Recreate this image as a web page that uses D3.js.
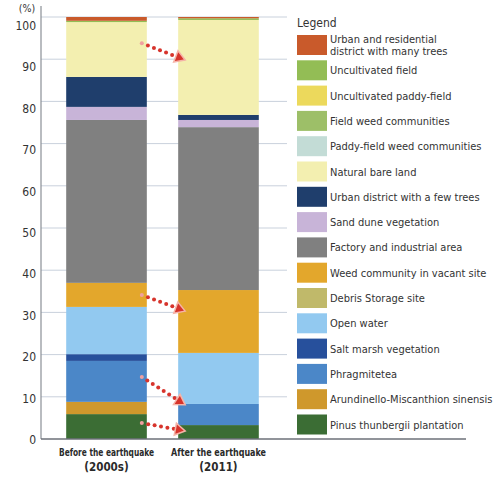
<!DOCTYPE html>
<html><head><meta charset="utf-8">
<script src="https://cdn.jsdelivr.net/npm/d3@7"></script>
<style>body{margin:0;background:#fff}svg{display:block}</style>
</head><body><svg id="c" width="499" height="484"></svg>
<script>
// ---- data ----
const categories = ["Before the earthquake (2000s)", "After the earthquake (2011)"];
const categoryLines = [["Before the earthquake", "(2000s)"], ["After the earthquake", "(2011)"]];
// legend order (top of stack first)
const classes = [
  "Urban and residential district with many trees",
  "Uncultivated field",
  "Uncultivated paddy-field",
  "Field weed communities",
  "Paddy-field weed communities",
  "Natural bare land",
  "Urban district with a few trees",
  "Sand dune vegetation",
  "Factory and industrial area",
  "Weed community in vacant site",
  "Debris Storage site",
  "Open water",
  "Salt marsh vegetation",
  "Phragmitetea",
  "Arundinello-Miscanthion sinensis",
  "Pinus thunbergii plantation"
];
const legendLines = [
  ["Urban and residential", "district with many trees"],
  ["Uncultivated field"], ["Uncultivated paddy-field"], ["Field weed communities"],
  ["Paddy-field weed communities"], ["Natural bare land"], ["Urban district with a few trees"],
  ["Sand dune vegetation"], ["Factory and industrial area"], ["Weed community in vacant site"],
  ["Debris Storage site"], ["Open water"], ["Salt marsh vegetation"], ["Phragmitetea"],
  ["Arundinello-Miscanthion sinensis"], ["Pinus thunbergii plantation"]
];
const beforeValues = [0.9, 0.3, 0, 0, 0, 13.0, 7.1, 3.1, 38.6, 5.7, 0, 11.2, 1.6, 9.7, 2.9, 5.9];
const afterValues  = [0.3, 0.4, 0, 0, 0, 22.5, 1.2, 1.7, 38.6, 14.9, 0, 12.1, 0, 5.0, 0, 3.3];
const yTicks = [0, 10, 20, 30, 40, 50, 60, 70, 80, 90, 100];
// arrows: [value at left bar, value at right bar]
const arrows = [[93.8, 89.8], [34.1, 30.3], [14.7, 8.1], [3.8, 1.9]];

const palette = ["#c95a2b", "#93bd55", "#ecd95c", "#9dbf68", "#c3dcd6", "#f3efb0", "#1f3e6c",
  "#c8b4d8", "#808080", "#e3a72c", "#c0b96a", "#92c9f0", "#27509c", "#4b87c8", "#cf982c", "#3b6d34"];

// ---- chart ----
const svg = d3.select("#c");
const font = "'DejaVu Sans Condensed','Liberation Sans Narrow',sans-serif";
const y = d3.scaleLinear().domain([0, 100]).range([439, 17]);
const x = d3.scaleBand().domain(categories).range([41, 284]).paddingInner(0.28).paddingOuter(0.225);
const color = d3.scaleOrdinal().domain(classes).range(palette);

// gridlines
svg.append("g").selectAll("line").data(yTicks.filter(t => t > 0)).join("line")
  .attr("x1", 41).attr("x2", 287).attr("y1", d => y(d)).attr("y2", d => y(d))
  .attr("stroke", "#c9d1dc").attr("stroke-width", 1);

// stacked bars
const rows = categories.map((c, i) => {
  const r = {cat: c};
  classes.forEach((k, j) => r[k] = (i === 0 ? beforeValues : afterValues)[j]);
  return r;
});
const stack = d3.stack().keys(classes.slice().reverse())(rows);
svg.append("g").selectAll("g").data(stack).join("g")
  .attr("fill", d => color(d.key))
  .selectAll("rect").data(d => d).join("rect")
  .attr("x", d => x(d.data.cat)).attr("width", x.bandwidth())
  .attr("y", d => y(d[1])).attr("height", d => Math.max(0, y(d[0]) - y(d[1])));

// axes lines
svg.append("line").attr("x1", 41).attr("x2", 41).attr("y1", 6).attr("y2", 439)
  .attr("stroke", "#8a8f96").attr("stroke-width", 1.2);
svg.append("line").attr("x1", 41).attr("x2", 466).attr("y1", 439).attr("y2", 439)
  .attr("stroke", "#6d7178").attr("stroke-width", 1.5);

// y tick labels (slightly offset in the original artwork)
svg.append("g").selectAll("text").data(yTicks).join("text")
  .attr("x", 36).attr("y", d => y(d) + 1 + d * 0.075).attr("dy", "0.35em").attr("text-anchor", "end")
  .attr("font-family", font).attr("font-size", 12).attr("fill", "#333").text(d => d);
svg.append("text").attr("x", 27).attr("y", 12).attr("text-anchor", "middle")
  .attr("font-family", font).attr("font-size", 10.5).attr("fill", "#333").text("(%)");

// x labels
const xl = svg.append("g").selectAll("text").data(categories).join("text")
  .attr("text-anchor", "middle").attr("font-family", font).attr("font-size", 10.5)
  .attr("font-weight", "bold").attr("fill", "#2a2a2a");
xl.selectAll("tspan").data((d, i) => categoryLines[i].map((t, j) => ({t, j, c: d}))).join("tspan")
  .attr("x", d => x(d.c) + x.bandwidth() / 2).attr("y", d => 456 + d.j * 15)
  .attr("textLength", d => d.j === 0 ? 95 : null).attr("lengthAdjust", "spacingAndGlyphs")
  .attr("font-size", d => d.j === 0 ? 10.5 : 11.5)
  .text(d => d.t);

// arrows
const xa0 = x(categories[0]) + x.bandwidth() - 5;
const xa1 = x(categories[1]) + 7;
const ag = svg.append("g");
arrows.forEach(([v0, v1]) => {
  const x0 = xa0, y0 = y(v0), x1 = xa1, y1 = y(v1);
  const dx = x1 - x0, dy = y1 - y0, L = Math.hypot(dx, dy), ux = dx / L, uy = dy / L;
  const head = 10;
  const n = Math.floor((L - head) / 6.5);
  for (let i = 0; i <= n; i++) {
    ag.append("circle").attr("cx", x0 + ux * i * 6.5).attr("cy", y0 + uy * i * 6.5).attr("r", 2)
      .attr("fill", i === 0 ? "#f0a0a0" : "#d7342c");
  }
  const bx = x1 - ux * head, by = y1 - uy * head, px = -uy, py = ux, w = 6;
  ag.append("path")
    .attr("d", `M${x1},${y1}L${bx + px * w},${by + py * w}L${bx - px * w},${by - py * w}Z`)
    .attr("fill", "#d7342c").attr("stroke", "#f5b4a8").attr("stroke-width", 1.5);
});

// legend
svg.append("text").attr("x", 297).attr("y", 27).attr("font-family", font).attr("font-size", 12)
  .attr("fill", "#333").text("Legend");
const lg = svg.append("g").selectAll("g").data(classes).join("g")
  .attr("transform", (d, i) => `translate(297,${35 + i * 25.3})`);
lg.append("rect").attr("width", 30).attr("height", 20).attr("fill", d => color(d));
lg.append("text").attr("font-family", font).attr("font-size", 11).attr("fill", "#333")
  .selectAll("tspan").data((d, i) => legendLines[i].map((t, j, a) => ({t, j, n: a.length}))).join("tspan")
  .attr("x", 33).attr("y", d => d.n === 1 ? 14 : 8 + d.j * 12).text(d => d.t);
</script></body></html>
